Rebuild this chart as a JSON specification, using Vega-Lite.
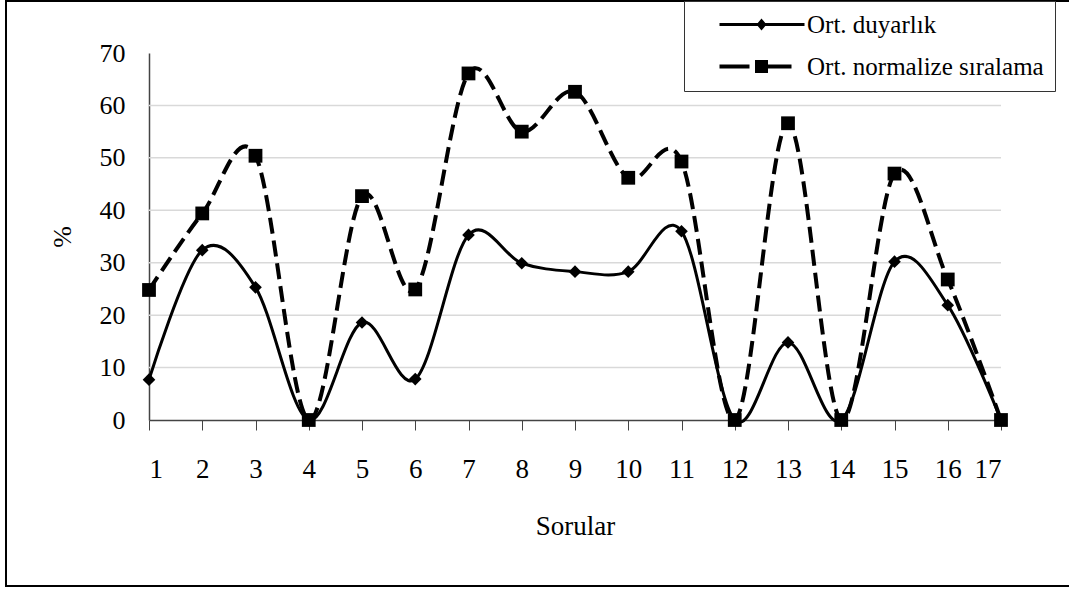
{
  "$schema": "https://vega.github.io/schema/vega-lite/v6.json",
  "width": 1065,
  "height": 585,
  "autosize": {"type": "none"},
  "padding": {"left": 6, "top": 1, "right": -2, "bottom": 4},
  "background": "white",
  "config": {
    "view": {"stroke": "black", "strokeWidth": 2},
    "font": "Liberation Serif",
    "axis": {"labelFont": "Liberation Serif", "titleFont": "Liberation Serif", "labelColor": "black", "titleColor": "black", "titleFontWeight": "normal", "grid": false},
    "legend": {"labelFont": "Liberation Serif"}
  },
  "datasets": {
    "main": [
      {"soru": 1, "seri": "Ort. duyarlık", "deger": 7.7},
      {"soru": 2, "seri": "Ort. duyarlık", "deger": 32.4},
      {"soru": 3, "seri": "Ort. duyarlık", "deger": 25.3},
      {"soru": 4, "seri": "Ort. duyarlık", "deger": 0},
      {"soru": 5, "seri": "Ort. duyarlık", "deger": 18.6},
      {"soru": 6, "seri": "Ort. duyarlık", "deger": 7.8},
      {"soru": 7, "seri": "Ort. duyarlık", "deger": 35.3},
      {"soru": 8, "seri": "Ort. duyarlık", "deger": 29.9},
      {"soru": 9, "seri": "Ort. duyarlık", "deger": 28.3},
      {"soru": 10, "seri": "Ort. duyarlık", "deger": 28.3},
      {"soru": 11, "seri": "Ort. duyarlık", "deger": 36.0},
      {"soru": 12, "seri": "Ort. duyarlık", "deger": 0},
      {"soru": 13, "seri": "Ort. duyarlık", "deger": 14.8},
      {"soru": 14, "seri": "Ort. duyarlık", "deger": 0},
      {"soru": 15, "seri": "Ort. duyarlık", "deger": 30.2},
      {"soru": 16, "seri": "Ort. duyarlık", "deger": 21.9},
      {"soru": 17, "seri": "Ort. duyarlık", "deger": 0},
      {"soru": 1, "seri": "Ort. normalize sıralama", "deger": 24.8},
      {"soru": 2, "seri": "Ort. normalize sıralama", "deger": 39.4},
      {"soru": 3, "seri": "Ort. normalize sıralama", "deger": 50.4},
      {"soru": 4, "seri": "Ort. normalize sıralama", "deger": 0},
      {"soru": 5, "seri": "Ort. normalize sıralama", "deger": 42.7},
      {"soru": 6, "seri": "Ort. normalize sıralama", "deger": 24.9},
      {"soru": 7, "seri": "Ort. normalize sıralama", "deger": 66.1},
      {"soru": 8, "seri": "Ort. normalize sıralama", "deger": 55.0},
      {"soru": 9, "seri": "Ort. normalize sıralama", "deger": 62.6},
      {"soru": 10, "seri": "Ort. normalize sıralama", "deger": 46.2},
      {"soru": 11, "seri": "Ort. normalize sıralama", "deger": 49.3},
      {"soru": 12, "seri": "Ort. normalize sıralama", "deger": 0},
      {"soru": 13, "seri": "Ort. normalize sıralama", "deger": 56.6},
      {"soru": 14, "seri": "Ort. normalize sıralama", "deger": 0},
      {"soru": 15, "seri": "Ort. normalize sıralama", "deger": 47.0},
      {"soru": 16, "seri": "Ort. normalize sıralama", "deger": 26.8},
      {"soru": 17, "seri": "Ort. normalize sıralama", "deger": 0}
    ],
    "grid": [{"v": 10}, {"v": 20}, {"v": 30}, {"v": 40}, {"v": 50}, {"v": 60}]
  },
  "layer": [
    {
      "data": {"name": "grid"},
      "mark": {"type": "rule", "color": "#d9d9d9", "strokeWidth": 1.5},
      "encoding": {
        "y": {"field": "v", "type": "quantitative", "scale": {"domain": [0, 70], "range": [419, 52], "nice": false, "zero": false},
          "axis": {"offset": -143, "values": [0, 10, 20, 30, 40, 50, 60, 70], "ticks": false, "tickSize": 0, "labelPadding": 24, "labelFontSize": 26, "labelFont": "Liberation Serif", "domainColor": "#444", "domainWidth": 1.5, "title": "%", "titleFont": "Liberation Serif", "titleFontSize": 26, "titlePadding": 24}},
        "x": {"datum": 1, "type": "quantitative", "scale": {"domain": [1, 17], "range": [143, 995], "nice": false, "zero": false},
          "axis": {"offset": -166, "values": [1,2,3,4,5,6,7,8,9,10,11,12,13,14,15,16,17], "format": "d", "tickSize": 10, "tickColor": "#444", "labelPadding": 26, "labelFontSize": 27, "labelFont": "Liberation Serif", "domainColor": "#444", "domainWidth": 1.5, "title": "Sorular", "titleFont": "Liberation Serif", "titleFontSize": 27, "titlePadding": 31}},
        "x2": {"datum": 17}
      }
    },
    {
      "mark": {"type": "rule", "color": "#8c8c8c", "strokeWidth": 1.5},
      "encoding": {"x": {"datum": 1}, "x2": {"datum": 17}, "y": {"datum": 70}}
    },
    {
      "mark": {"type": "rule", "color": "#8c8c8c", "strokeWidth": 1.5},
      "encoding": {"x": {"datum": 17}, "y": {"datum": 0}, "y2": {"datum": 70}}
    },
    {
      "data": {"name": "main"},
      "transform": [{"filter": "datum.seri == 'Ort. normalize sıralama'"}],
      "mark": {"type": "line", "interpolate": "cardinal", "color": "black", "strokeWidth": 4, "strokeDash": [16, 7]},
      "encoding": {"x": {"field": "soru", "type": "quantitative"}, "y": {"field": "deger", "type": "quantitative"}}
    },
    {
      "data": {"name": "main"},
      "transform": [{"filter": "datum.seri == 'Ort. duyarlık'"}],
      "mark": {"type": "line", "interpolate": "cardinal", "color": "black", "strokeWidth": 3},
      "encoding": {"x": {"field": "soru", "type": "quantitative"}, "y": {"field": "deger", "type": "quantitative"}}
    },
    {
      "data": {"name": "main"},
      "transform": [{"filter": "datum.seri == 'Ort. normalize sıralama'"}],
      "mark": {"type": "point", "shape": "square", "filled": true, "opacity": 1, "color": "black", "size": 190},
      "encoding": {"x": {"field": "soru", "type": "quantitative"}, "y": {"field": "deger", "type": "quantitative"}}
    },
    {
      "data": {"name": "main"},
      "transform": [{"filter": "datum.seri == 'Ort. duyarlık'"}],
      "mark": {"type": "point", "shape": "diamond", "filled": true, "opacity": 1, "color": "black", "size": 160},
      "encoding": {"x": {"field": "soru", "type": "quantitative"}, "y": {"field": "deger", "type": "quantitative"}}
    },
    {
      "data": {"name": "main"},
      "transform": [{"filter": "false"}],
      "mark": {"type": "point", "filled": true, "opacity": 1, "color": "black"},
      "encoding": {
        "x": {"field": "soru", "type": "quantitative"},
        "y": {"field": "deger", "type": "quantitative"},
        "shape": {
          "field": "seri", "type": "nominal",
          "scale": {"domain": ["Ort. duyarlık", "Ort. normalize sıralama"],
            "range": [
              "M1.2,-0.15L9.7,-0.15L9.7,0.15L1.2,0.15ZM5.4,-0.6L5.9,0L5.4,0.6L4.9,0Z",
              "M1.2,-0.2L4.2,-0.2L4.2,0.2L1.2,0.2ZM4.75,-0.65L6.05,-0.65L6.05,0.65L4.75,0.65ZM6.05,-0.2L8.4,-0.2L8.4,0.2L6.05,0.2Z"
            ]},
          "legend": {
            "orient": "none", "legendX": 678, "legendY": 0, "title": null,
            "padding": 11, "strokeColor": "#333", "fillColor": "white",
            "symbolSize": 400, "symbolOpacity": 1, "labelOffset": 87, "rowPadding": 16,
            "symbolFillColor": "black", "symbolStrokeWidth": 0,
            "labelFont": "Liberation Serif", "labelFontSize": 25, "labelColor": "black", "labelLimit": 400
          }
        }
      }
    }
  ]
}
